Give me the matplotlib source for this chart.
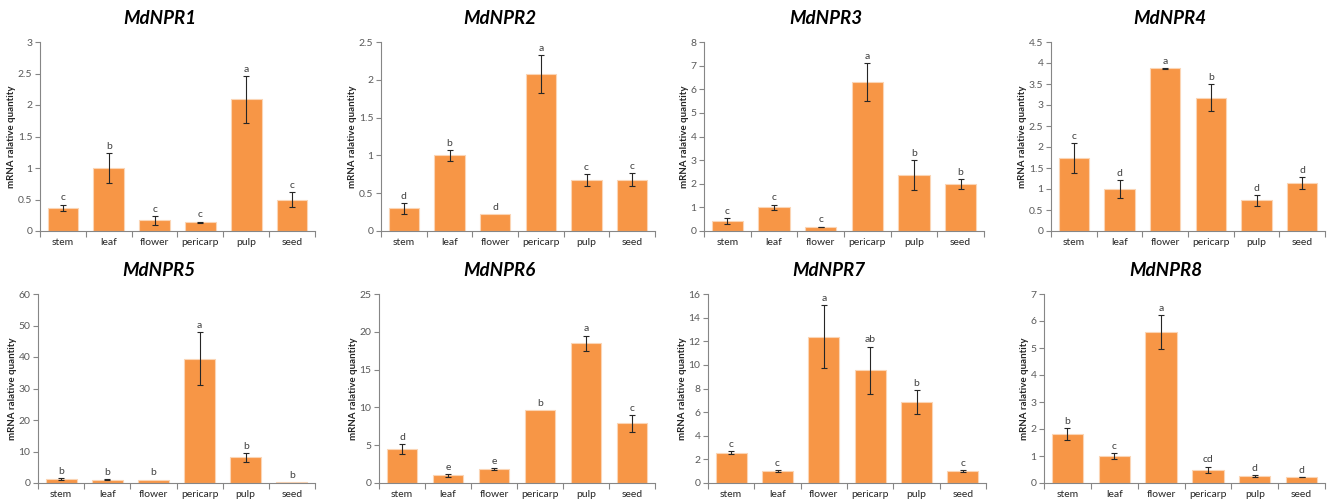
import matplotlib
matplotlib.use("Agg")
import matplotlib.pyplot as plt
from matplotlib.ticker import FuncFormatter, FixedLocator
import numpy as np

plt.rcParams['font.family'] = ['Lato', 'DejaVu Sans']

tissues = ["stem", "leaf", "flower", "pericarp", "pulp", "seed"]
genes = ["MdNPR1", "MdNPR2", "MdNPR3", "MdNPR4", "MdNPR5", "MdNPR6", "MdNPR7", "MdNPR8"]

npr1_mean = [0.37, 1.00, 0.17, 0.14, 2.09, 0.50]
npr1_err = [0.05, 0.24, 0.07, 0.01, 0.37, 0.12]
npr1_sig = ["c", "b", "c", "c", "a", "c"]

npr2_mean = [0.30, 1.00, 0.22, 2.08, 0.67, 0.68]
npr2_err = [0.07, 0.07, 0.00, 0.25, 0.08, 0.09]
npr2_sig = ["d", "b", "d", "a", "c", "c"]

npr3_mean = [0.42, 1.00, 0.17, 6.30, 2.37, 1.98]
npr3_err = [0.13, 0.12, 0.02, 0.80, 0.62, 0.20]
npr3_sig = ["c", "c", "c", "a", "b", "b"]

npr4_mean = [1.74, 1.00, 3.87, 3.17, 0.73, 1.15]
npr4_err = [0.35, 0.22, 0.01, 0.32, 0.13, 0.14]
npr4_sig = ["c", "d", "a", "b", "d", "d"]

npr5_mean = [1.3, 1.0, 1.1, 39.5, 8.1, 0.3]
npr5_err = [0.3, 0.2, 0.0, 8.5, 1.3, 0.0]
npr5_sig = ["b", "b", "b", "a", "b", "b"]

npr6_mean = [4.5, 1.0, 1.85, 9.65, 18.5, 7.9]
npr6_err = [0.6, 0.15, 0.15, 0.0, 1.0, 1.1]
npr6_sig = ["d", "e", "e", "b", "a", "c"]

npr7_mean = [2.55, 1.0, 12.4, 9.55, 6.85, 1.0]
npr7_err = [0.12, 0.1, 2.7, 2.0, 1.05, 0.1]
npr7_sig = ["c", "c", "a", "ab", "b", "c"]

npr8_mean = [1.80, 1.00, 5.60, 0.49, 0.26, 0.22]
npr8_err = [0.22, 0.10, 0.62, 0.12, 0.05, 0.01]
npr8_sig = ["b", "c", "a", "cd", "d", "d"]

ymaxs = [3, 2.5, 8, 4.5, 60, 25, 16, 7]
ysteps = [0.5, 0.5, 1, 0.5, 10, 5, 2, 1]

means = [npr1_mean, npr2_mean, npr3_mean, npr4_mean, npr5_mean, npr6_mean, npr7_mean, npr8_mean]
errs = [npr1_err, npr2_err, npr3_err, npr4_err, npr5_err, npr6_err, npr7_err, npr8_err]
sigs = [npr1_sig, npr2_sig, npr3_sig, npr4_sig, npr5_sig, npr6_sig, npr7_sig, npr8_sig]

W, H = 1333, 500
fig = plt.figure(figsize=(W / 100, H / 100), dpi=100)

# pixel boxes: (left, right, top, bottom)
boxes = [
    (40, 315, 42, 231), (381, 655, 42, 231), (704, 984, 42, 231), (1051, 1325, 42, 231),
    (38, 315, 294, 483), (379, 655, 294, 483), (708, 986, 294, 483), (1044, 1325, 294, 483),
]

bar_color = "#F79646"
axis_color = "#868686"
text_color = "#595959"

for i, (l, r, t, b) in enumerate(boxes):
    ax = fig.add_axes([l / W, (H - b) / H, (r - l) / W, (b - t) / H])
    x = np.arange(len(tissues))
    m_arr = np.array(means[i])
    e_arr = np.array(errs[i])
    ax.bar(x, m_arr, width=0.67, color=bar_color, edgecolor="#FBD5B5", linewidth=0.8, zorder=2)
    has_err = e_arr > 0
    ax.errorbar(x[has_err], m_arr[has_err], yerr=e_arr[has_err], fmt="none", ecolor="#262626",
                elinewidth=0.8, capsize=2.2, capthick=0.8, zorder=3)
    for xi, m, e, s in zip(x, m_arr, e_arr, sigs[i]):
        ax.annotate(s, (xi, m + e), xytext=(0, 1.5), textcoords="offset points",
                    ha="center", va="bottom", fontsize=7.5, color="#404040", zorder=4)
    ax.set_xlim(-0.5, len(tissues) - 0.5)
    ax.set_ylim(0, ymaxs[i])
    ax.set_yticks(np.arange(0, ymaxs[i] + ysteps[i] / 2, ysteps[i]))
    ax.yaxis.set_major_formatter(FuncFormatter(lambda v, p: "{:g}".format(round(v, 3))))
    ax.set_xticks(x)
    ax.set_xticklabels(tissues)
    ax.xaxis.set_minor_locator(FixedLocator(np.arange(-0.5, len(tissues), 1.0)))
    ax.tick_params(axis="x", which="major", length=0, pad=5, labelsize=7.5, labelcolor="#262626")
    ax.tick_params(axis="x", which="minor", length=4, width=0.8, color=axis_color, direction="out")
    ax.tick_params(axis="y", length=3.5, width=0.8, color=axis_color, direction="out", pad=2,
                   labelsize=7.5, labelcolor=text_color)
    for side in ["top", "right"]:
        ax.spines[side].set_visible(False)
    for side in ["left", "bottom"]:
        ax.spines[side].set_color(axis_color)
        ax.spines[side].set_linewidth(0.8)
    ax.set_ylabel("mRNA ralative quantity", fontsize=7, fontweight="bold", color="#262626", labelpad=1)
    ax.set_title(genes[i], x=0.435, y=1.0, pad=13, fontsize=13.5, fontweight="bold", fontstyle="italic",
                 color="#000000")

fig.savefig("out.png", dpi=100)
